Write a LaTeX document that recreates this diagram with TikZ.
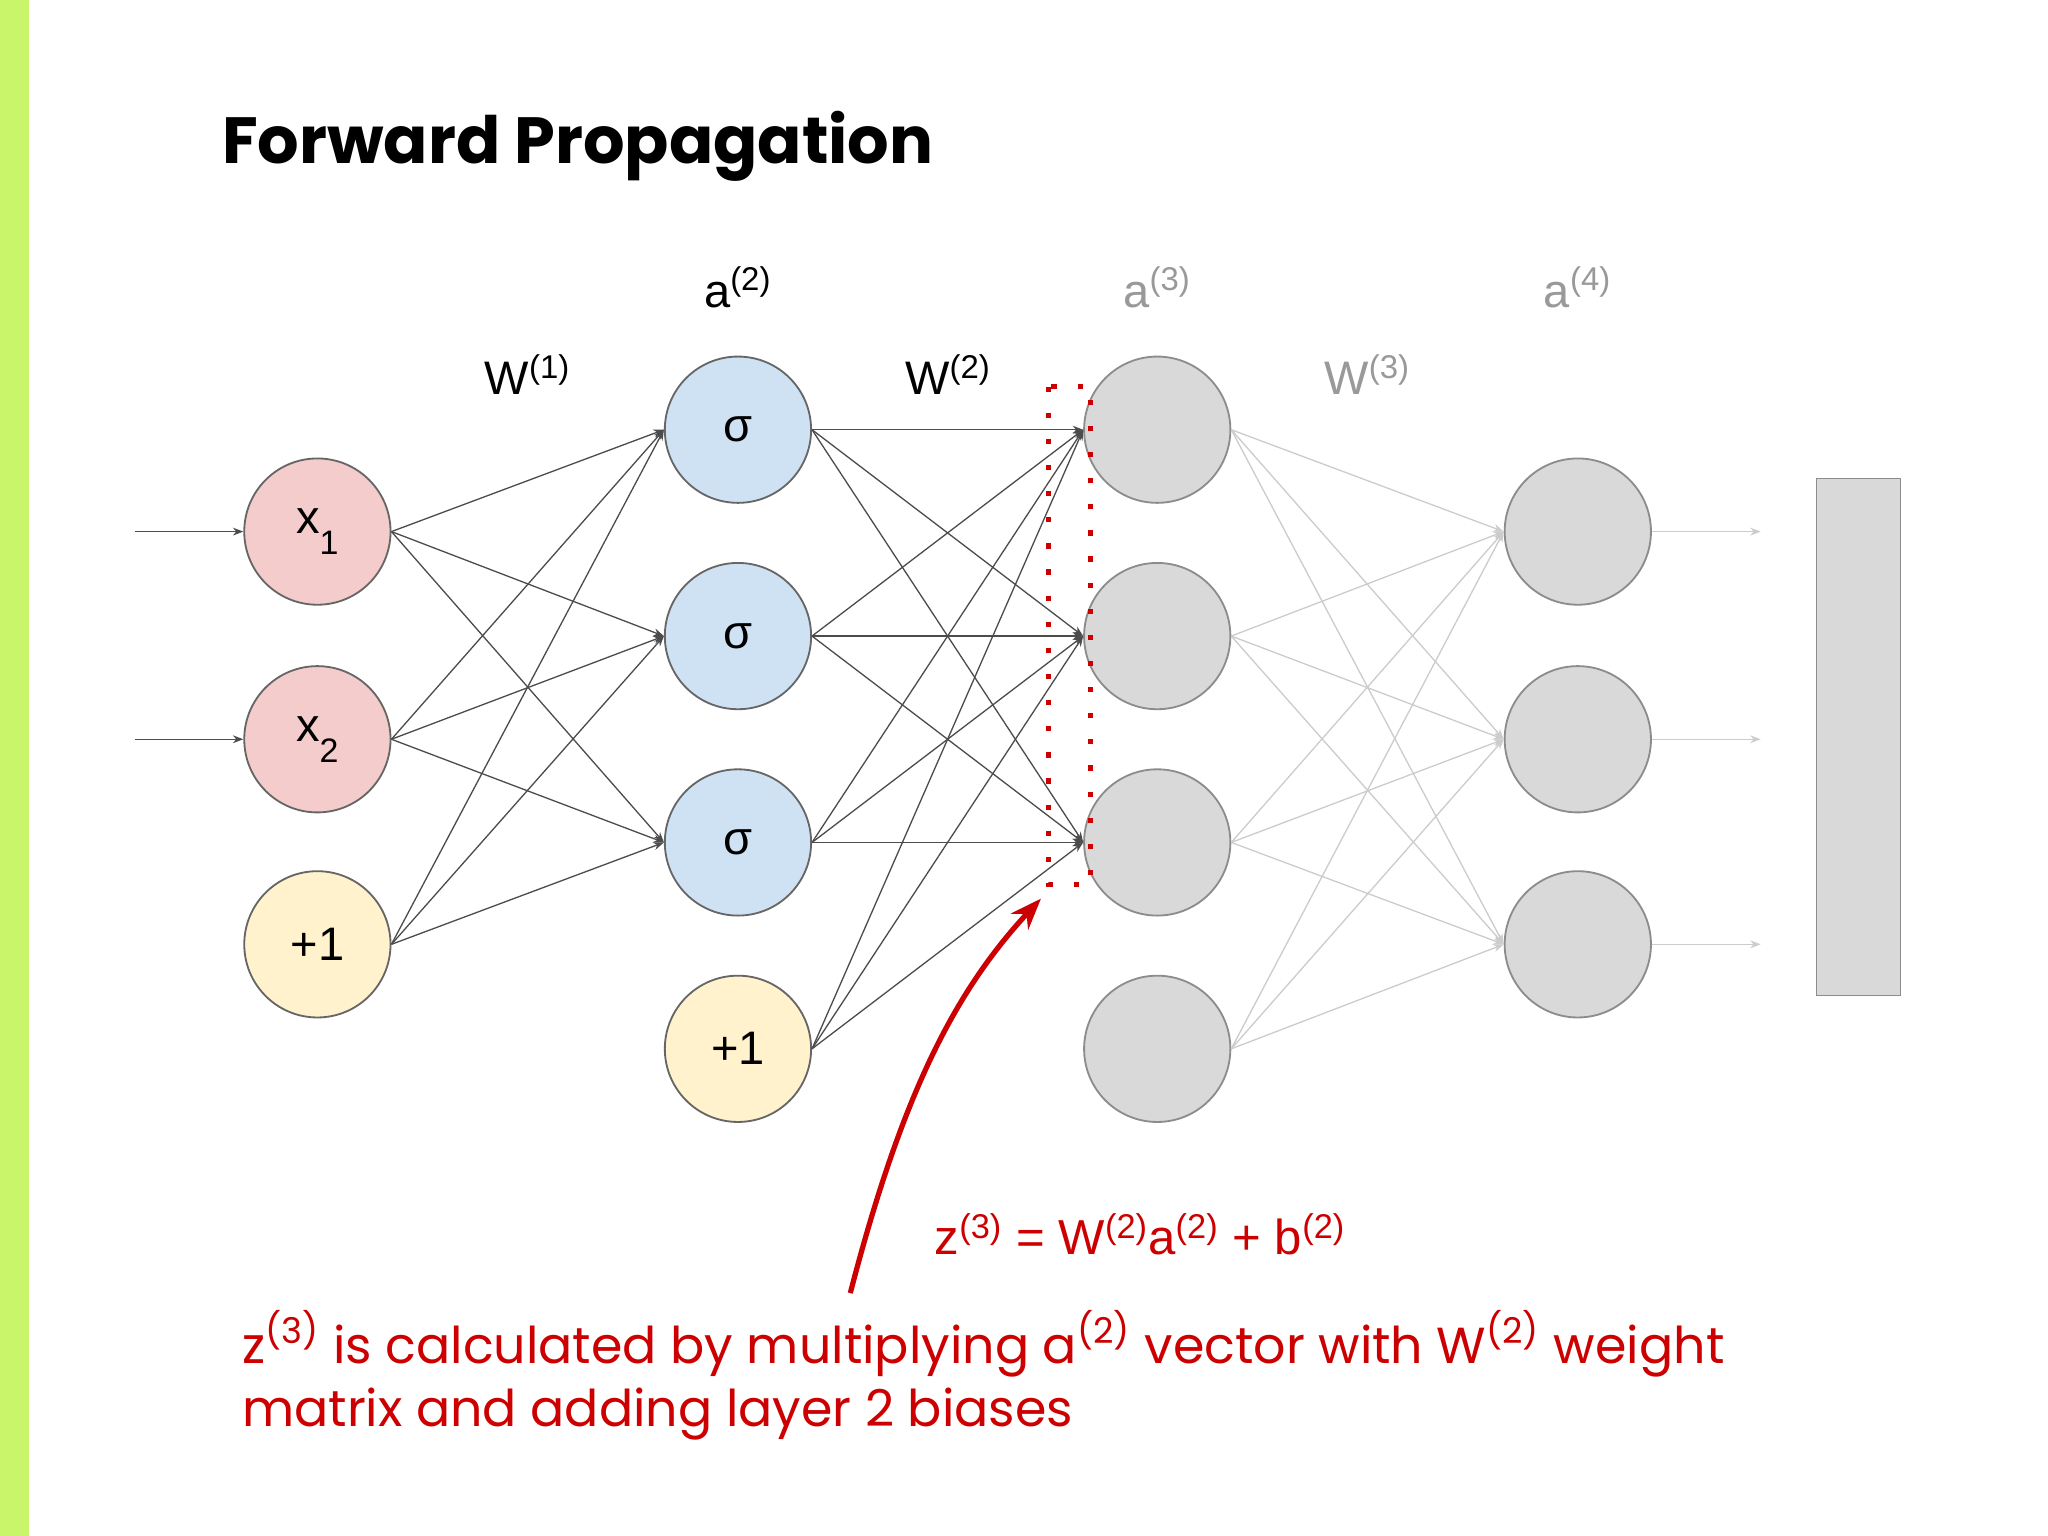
\documentclass[tikz,border=0pt]{standalone}
\usepackage{fontspec}
\setmainfont{Liberation Sans}
\newfontfamily\pop{Poppins}
\usetikzlibrary{arrows.meta}
\definecolor{pk}{HTML}{F4CCCC}
\definecolor{bl}{HTML}{CFE2F3}
\definecolor{yl}{HTML}{FFF2CC}
\definecolor{gy}{HTML}{D9D9D9}
\definecolor{rd}{HTML}{CC0000}
\definecolor{gr}{HTML}{C8F56A}
\newcommand{\lowsub}[1]{\raisebox{-0.45em}{\fontsize{13}{14}\selectfont #1}}
\begin{document}
\begin{tikzpicture}[x=0.5pt,y=-0.5pt,
 neu/.style={circle,draw=black!60,line width=0.7pt,minimum size=56pt,inner sep=0pt,font=\fontsize{18}{20}\selectfont},
 gneu/.style={neu,fill=gy,draw=black!45},
 e/.style={draw=black!70,line width=0.5pt,-{Stealth[length=4pt,width=3pt]}},
 le/.style={draw=black!20,line width=0.5pt,-{Stealth[length=4pt,width=3pt]}},
 lab/.style={font=\fontsize{18}{20}\selectfont}]
\useasboundingbox (0,0) rectangle (1568,1176);
\fill[white] (0,0) rectangle (1568,1176);
\fill[gr] (0,0) rectangle (22,1176);
\node[anchor=west,font=\pop\bfseries\fontsize{25}{28}\selectfont] (t) at (163,112) {Forward Propagation};
\node[neu,fill=pk] (x1) at (243,407) {x\lowsub{1}};
\node[neu,fill=pk] (x2) at (243,566) {x\lowsub{2}};
\node[neu,fill=yl] (b1) at (243,723) {+1};
\node[neu,fill=bl] (h1) at (565,329) {σ};
\node[neu,fill=bl] (h2) at (565,487) {σ};
\node[neu,fill=bl] (h3) at (565,645) {σ};
\node[neu,fill=yl] (b2) at (565,803) {+1};
\node[gneu] (g1) at (886,329) {};
\node[gneu] (g2) at (886,487) {};
\node[gneu] (g3) at (886,645) {};
\node[gneu] (g4) at (886,803) {};
\node[gneu] (o1) at (1208,407) {};
\node[gneu] (o2) at (1208,566) {};
\node[gneu] (o3) at (1208,723) {};
\node[draw=black!45,fill=gy,minimum width=32pt,minimum height=198pt,inner sep=0pt] (r) at (1423,564) {};
\coordinate (i1) at (103,407); \coordinate (i2) at (103,566);
\coordinate (q1) at (1348,407); \coordinate (q2) at (1348,566); \coordinate (q3) at (1348,723);
\draw[e] (i1) -- (x1); \draw[e] (i2) -- (x2);
\foreach \a in {x1,x2,b1}{\foreach \b in {h1,h2,h3}{\draw[e] (\a.east) -- (\b.west);}}
\foreach \a in {h1,h2,h3,b2}{\foreach \b in {g1,g2,g3}{\draw[e] (\a.east) -- (\b.west);}}
\foreach \a in {g1,g2,g3,g4}{\foreach \b in {o1,o2,o3}{\draw[le] (\a.east) -- (\b.west);}}
\draw[le] (o1) -- (q1); \draw[le] (o2) -- (q2); \draw[le] (o3) -- (q3);
\node[lab] (la2) at (565,220) {a\textsuperscript{(2)}};
\node[lab,text=black!40] (la3) at (886,220) {a\textsuperscript{(3)}};
\node[lab,text=black!40] (la4) at (1208,220) {a\textsuperscript{(4)}};
\node[lab] (w1) at (404,287) {W\textsuperscript{(1)}};
\node[lab] (w2) at (726,287) {W\textsuperscript{(2)}};
\node[lab,text=black!40] (w3) at (1047,287) {W\textsuperscript{(3)}};
\draw[rd,line width=2pt,dash pattern=on 2pt off 8pt] (803,296) rectangle (835,677);
\coordinate (s) at (651,990); \coordinate (d) at (797,688);
\draw[rd,line width=2pt,-{Stealth[length=12pt,width=9pt]}] (s) .. controls (690,840) and (730,760) .. (d);
\node[text=rd,font=\fontsize{18.8}{20}\selectfont] (eq) at (873,945) {z\textsuperscript{(3)} = W\textsuperscript{(2)}a\textsuperscript{(2)} + b\textsuperscript{(2)}};
\node[anchor=north west,text=rd,align=left,font=\pop\fontsize{19.4}{24}\selectfont,inner sep=0pt] (cap) at (185,1003) {z\textsuperscript{(3)} is calculated by multiplying a\textsuperscript{(2)} vector with W\textsuperscript{(2)} weight\\matrix and adding layer 2 biases};
\end{tikzpicture}
\end{document}
